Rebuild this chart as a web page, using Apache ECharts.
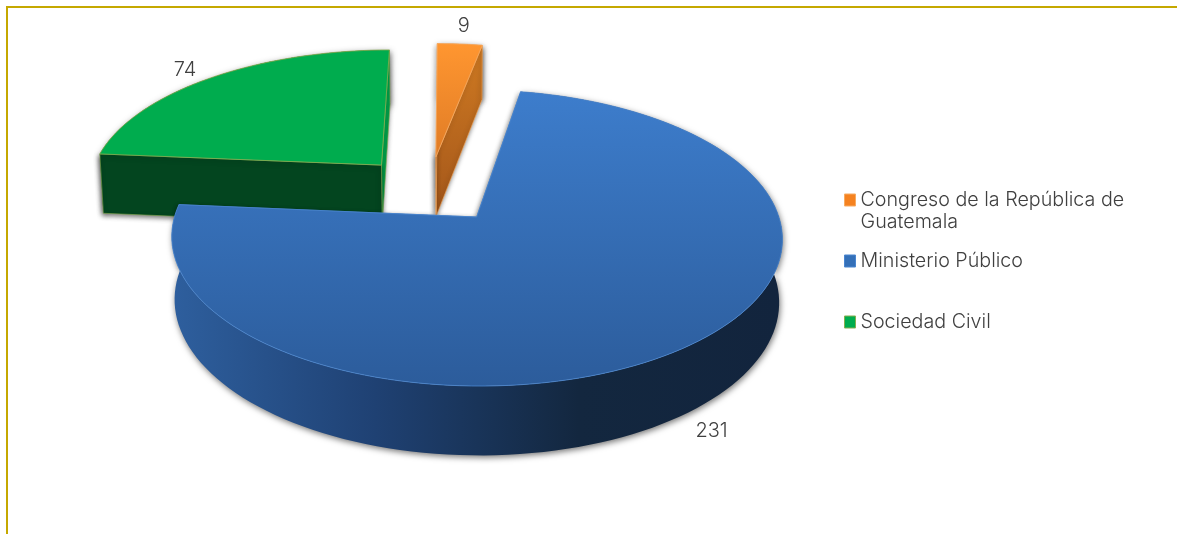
<!DOCTYPE html>
<html>
<head>
<meta charset="utf-8">
<style>
  html, body { margin: 0; padding: 0; background: #fff; }
  #chart { width: 1177px; height: 534px; }
</style>
<script src="https://cdn.jsdelivr.net/npm/echarts@6/dist/echarts.min.js"></script>
</head>
<body>
<div id="chart"></div>
<script>
var categories = ['Congreso de la República de Guatemala', 'Ministerio Público', 'Sociedad Civil']
var values = [9, 231, 74]

// projection of the tilted pie, radius 1 in world units
var view = { cx: 455.5, cy: 202.7, rx: 298, ry: 141, depth: 0.14, thick: 61.5, thickPow: 0.72, shrink: 0.01 }
var startAngle = -0.2
// how far each slice is pulled out of the pie [x, depth]
var explode = [[-0.069, 0.34], [0.07, -0.1], [-0.258, 0.277]]
var labelRadius = [1.19, 1.09, 1.14]
var labelLevel = [0, 1, 0]
var labelNudge = [[0, 1], [6, 3], [-5, 3]]
var drawOrder = [0, 2, 1]

var total = values.reduce(function(a, b) { return a + b }, 0)

function grad(x2, y2, stops) {
  return new echarts.graphic.LinearGradient(0, 0, x2, y2, stops.map(function(c, i) {
    return { offset: i / (stops.length - 1), color: c }
  }))
}

var looks = [
  {
    top: grad(0, 1, ['#ff9630', '#e07c26']), wall: '#c8741f',
    faces: ['#a3561a', grad(0, 1, ['#cf7a22', '#a3561a'])], edge: '#f7ab62', color: '#f58220'
  },
  {
    top: grad(0, 1, ['#3d7dcc', '#2c5c9b']), wall: grad(1, 0, ['#2e5f9e', '#1f4173', '#13273f', '#12243d']),
    faces: ['#1f4173', '#1f4173'], edge: '#4a86d0', color: '#3470b8'
  },
  {
    top: '#00ac4e', wall: '#03451f',
    faces: ['#03451f', '#00a04a'], edge: '#86ad4f', color: '#00ac4e'
  }
]

function project(x, d, z) {
  var p = 1 / (1 + view.depth * d)
  return [
    view.cx + x * view.rx * p * (1 - view.shrink * z),
    view.cy - d * view.ry * p + z * view.thick * Math.pow(p, view.thickPow)
  ]
}

function sliceAngles(idx) {
  var before = 0
  for (var i = 0; i < idx; i++) before += values[i]
  return [startAngle + before / total * 360, startAngle + (before + values[idx]) / total * 360]
}

function rim(o, a0, a1, r, z) {
  var pts = []
  var n = Math.max(4, Math.ceil(Math.abs(a1 - a0) / 2))
  for (var i = 0; i <= n; i++) {
    var a = (a0 + (a1 - a0) * i / n) * Math.PI / 180
    pts.push(project(o[0] + r * Math.sin(a), o[1] + r * Math.cos(a), z))
  }
  return pts
}

function radialFace(o, a, fill, edgeColor) {
  var edge = rim(o, a, a, 1, 0)[0]
  var edgeLow = rim(o, a, a, 1, 1)[0]
  return {
    type: 'polygon',
    shape: { points: [project(o[0], o[1], 0), edge, edgeLow, project(o[0], o[1], 1)] },
    style: {
      fill: fill, stroke: edgeColor, lineWidth: 0.6,
      shadowBlur: 5, shadowColor: 'rgba(0,0,0,0.55)', shadowOffsetX: -1, shadowOffsetY: 2
    }
  }
}

function renderSlice(idx) {
  return function(params, api) {
    var o = explode[idx]
    var look = looks[idx]
    var ang = sliceAngles(idx)
    var mid = (ang[0] + ang[1]) / 2 * Math.PI / 180
    var wallPts = rim(o, ang[0], ang[1], 1, 0).concat(rim(o, ang[0], ang[1], 1, 1).reverse())
    var topPts = [project(o[0], o[1], 0)].concat(rim(o, ang[0], ang[1], 1, 0))
    var lp = project(
      o[0] + labelRadius[idx] * Math.sin(mid),
      o[1] + labelRadius[idx] * Math.cos(mid),
      labelLevel[idx]
    )
    return {
      type: 'group',
      children: [
        {
          type: 'polygon',
          shape: { points: wallPts },
          style: {
            fill: look.wall,
            shadowBlur: 6, shadowColor: 'rgba(0,0,0,0.55)', shadowOffsetX: 1, shadowOffsetY: 2
          }
        },
        radialFace(o, ang[1], look.faces[1], look.edge),
        radialFace(o, ang[0], look.faces[0], look.edge),
        {
          type: 'polygon',
          shape: { points: topPts },
          style: { fill: look.top, stroke: look.edge, lineWidth: 0.8 }
        },
        {
          type: 'text',
          style: {
            x: lp[0] + labelNudge[idx][0], y: lp[1] + labelNudge[idx][1], text: String(api.value(0)),
            fill: '#404040', font: '300 20px Inter', align: 'center', verticalAlign: 'middle'
          }
        }
      ]
    }
  }
}

var chart = echarts.init(document.getElementById('chart'))

function legendAt(idx, top) {
  return {
    data: [categories[idx]],
    orient: 'vertical',
    left: 844,
    top: top,
    padding: 0,
    itemWidth: 11,
    itemHeight: 12,
    itemGap: 0,
    icon: 'rect',
    selectedMode: false,
    itemStyle: { borderColor: looks[idx].edge, borderWidth: 1 },
    formatter: function(name) {
      // empty first line keeps the marker level with the first real line
      return name.replace(/^(.*de) (Guatemala)$/, '\n$1\n$2')
    },
    textStyle: {
      color: '#404040', fontFamily: 'Inter', fontWeight: 300, fontSize: 19.7, lineHeight: 22
    }
  }
}

chart.setOption({
  backgroundColor: '#ffffff',
  animation: false,
  legend: [
    legendAt(0, 167),
    legendAt(1, 250),
    legendAt(2, 311)
  ],
  graphic: [{
    type: 'polyline',
    silent: true,
    shape: { points: [[7, 534], [7, 7], [1177, 7]] },
    style: { stroke: '#c5a800', lineWidth: 2, fill: null }
  }],
  series: drawOrder.map(function(idx) {
    return {
      type: 'custom',
      name: categories[idx],
      coordinateSystem: 'none',
      silent: true,
      itemStyle: { color: looks[idx].color },
      data: [values[idx]],
      renderItem: renderSlice(idx)
    }
  })
})
</script>
</body>
</html>
